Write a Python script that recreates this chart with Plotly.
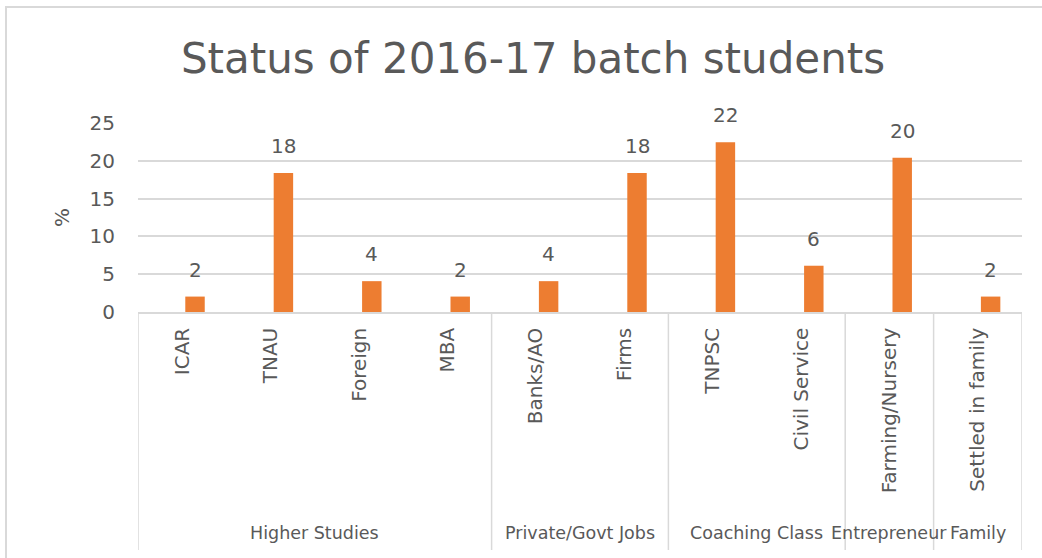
import plotly.graph_objects as go

# ---- data ----
categories = ["ICAR", "TNAU", "Foreign", "MBA", "Banks/AO", "Firms",
              "TNPSC", "Civil Service", "Farming/Nursery", "Settled in family"]
values = [2.04, 18.37, 4.08, 2.04, 4.08, 18.37, 22.45, 6.12, 20.41, 2.04]
groups = ["Higher Studies", "Private/Govt Jobs", "Coaching Class", "Entrepreneur", "Family"]
group_sizes = [4, 2, 2, 1, 1]
y_ticks = [0, 5, 10, 15, 20, 25]

TEXT = "#595959"
GRID = "#d9d9d9"
BAR = "#ED7D31"
FONT = "DejaVu Sans"

W, H = 1042, 558
L, R, T, B = 138, 20, 123, 246
plot_w = W - L - R
plot_h = H - T - B

BAR_W = 0.22
BAR_SHIFT = 0.145  # centre of bar relative to category centre

fig = go.Figure()
fig.add_trace(go.Bar(
    x=categories, y=values,
    marker=dict(color=BAR, line=dict(width=0)),
    width=BAR_W, offset=BAR_SHIFT - BAR_W / 2,
    hoverinfo="x+y",
))

annotations = []
# data labels
for i, v in enumerate(values):
    annotations.append(dict(
        x=i + BAR_SHIFT, y=v, xref="x", yref="y",
        text=f"{v:.0f}", showarrow=False, yanchor="bottom", yshift=13,
        font=dict(family=FONT, size=20, color=TEXT),
    ))

# group labels and separators
shapes = []
def px_to_py(py):
    return (H - B - py) / plot_h

start = -0.5
bounds = [start]
for g, n in zip(groups, group_sizes):
    end = start + n
    annotations.append(dict(
        x=(start + end) / 2, y=px_to_py(533), xref="x", yref="paper",
        text=g, showarrow=False, yanchor="middle", xanchor="center",
        font=dict(family=FONT, size=17.5, color=TEXT),
    ))
    bounds.append(end)
    start = end
for b in bounds:
    shapes.append(dict(type="line", xref="x", yref="paper",
                       x0=b, x1=b, y0=0, y1=px_to_py(550),
                       line=dict(color=GRID, width=1.5), layer="above"))

# chart border
shapes.append(dict(type="rect", xref="paper", yref="paper",
                   x0=(6 - L) / plot_w, x1=(W + 10 - L) / plot_w,
                   y0=px_to_py(H + 10), y1=px_to_py(7),
                   line=dict(color=GRID, width=2), fillcolor="rgba(0,0,0,0)",
                   layer="below"))

fig.update_layout(
    width=W, height=H,
    margin=dict(l=L, r=R, t=T, b=B, autoexpand=False),
    paper_bgcolor="white", plot_bgcolor="white",
    showlegend=False,
    font=dict(family=FONT, color=TEXT, size=20),
    title=dict(text="Status of 2016-17 batch students",
               x=533 / W, xanchor="center", xref="container",
               y=1 - 58 / H, yanchor="middle", yref="container",
               font=dict(family=FONT, size=42, color=TEXT)),
    xaxis=dict(
        range=[-0.5, len(categories) - 0.5],
        tickangle=-90, showgrid=False,
        showline=True, linecolor=GRID, linewidth=1.5,
        ticks="", ticklabelstandoff=6,
        tickfont=dict(family=FONT, size=20, color=TEXT),
        fixedrange=True,
    ),
    yaxis=dict(
        range=[0, 25], tickvals=y_ticks,
        showgrid=True, gridcolor=GRID, gridwidth=1.5,
        zeroline=False, showline=False, ticks="",
        ticklabelstandoff=22,
        tickfont=dict(family=FONT, size=20, color=TEXT),
        title=dict(text="%", standoff=14,
                   font=dict(family=FONT, size=20, color=TEXT)),
    ),
    annotations=annotations,
    shapes=shapes,
)

fig.write_html("out.html",
               config={"displayModeBar": False},
               post_script="document.body.style.margin='0';document.body.style.overflow='hidden';")
